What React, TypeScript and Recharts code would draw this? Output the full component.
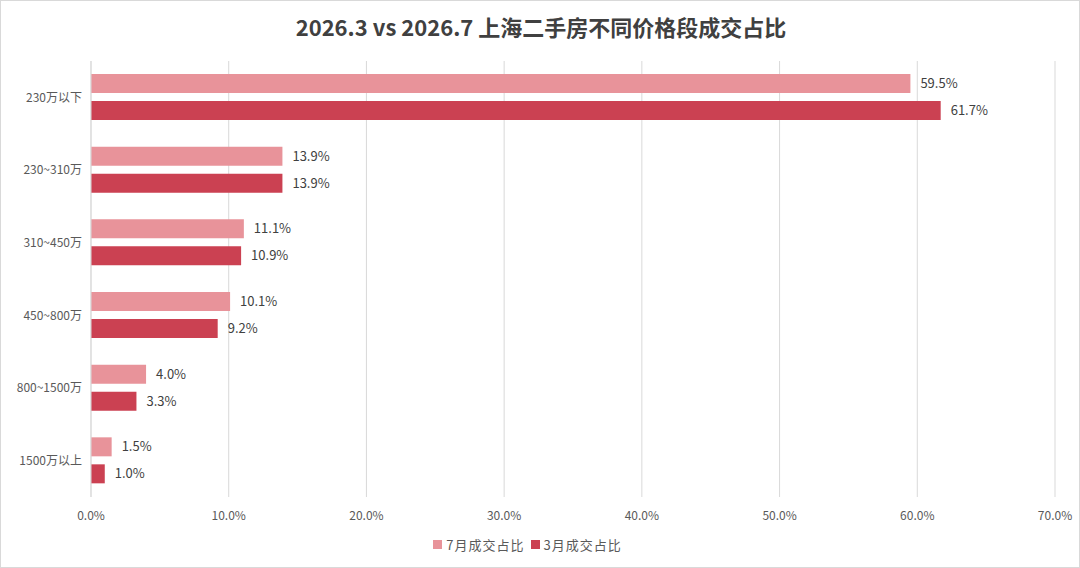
import React from 'react';
import { BarChart, Bar, XAxis, YAxis, CartesianGrid, LabelList, Legend } from 'recharts';

const categories = ['230万以下', '230~310万', '310~450万', '450~800万', '800~1500万', '1500万以上'];
const july = [59.5, 13.9, 11.1, 10.1, 4.0, 1.5];
const march = [61.7, 13.9, 10.9, 9.2, 3.3, 1.0];
const xTicks = [0, 10, 20, 30, 40, 50, 60, 70];
const seriesNames = ['7月成交占比', '3月成交占比'];
const colors = ['#E8939A', '#CB4152'];

const data = categories.map((c, i) => ({ name: c, july: july[i], march: march[i] }));

const FONT = '"Microsoft YaHei", "Noto Sans CJK SC", "Noto Sans", sans-serif';

const LegendContent = () => (
  <div style={{ display: 'flex', justifyContent: 'center', fontFamily: FONT, fontSize: 13, color: '#595959', height: 17, lineHeight: '17px' }}>
    {seriesNames.map((n, i) => (
      <span key={n} style={{ display: 'inline-flex', alignItems: 'center', marginRight: i === 0 ? 6 : 0, letterSpacing: 1 }}>
        <span style={{ width: 9, height: 9, background: colors[i], display: 'inline-block', marginRight: 4 }} />
        {n}
      </span>
    ))}
  </div>
);

export default function App() {
  return (
    <div style={{ position: 'fixed', left: 0, top: 0, width: 1080, height: 568, background: '#fff', boxSizing: 'border-box', border: '1px solid #d9d9d9', fontFamily: FONT }}>
      <div style={{ position: 'absolute', top: 10, left: 0, width: 1080, textAlign: 'center', fontSize: 22, fontWeight: 'bold', color: '#404040', lineHeight: '30px' }}>
        2026.3 vs 2026.7 上海二手房不同价格段成交占比
      </div>
      <div style={{ position: 'absolute', left: -1, top: -1 }}>
        <BarChart
          width={1080}
          height={568}
          data={data}
          layout="vertical"
          margin={{ top: 61, right: 25, bottom: 24, left: 0 }}
          barGap={8}
          barCategoryGap={13}
        >
          <CartesianGrid horizontal={false} vertical={true} stroke="#d9d9d9" />
          <XAxis
            type="number"
            domain={[0, 70]}
            ticks={xTicks}
            tickFormatter={(v: number) => `${v.toFixed(1)}%`}
            axisLine={false}
            tickLine={false}
            tick={{ fontSize: 12, fill: '#595959', fontFamily: FONT }}
            height={30}
            tickMargin={8}
          />
          <YAxis
            type="category"
            dataKey="name"
            width={91}
            axisLine={{ stroke: '#d9d9d9' }}
            tickLine={false}
            tickSize={0}
            tickMargin={9}
            tick={{ fontSize: 12, fill: '#595959', fontFamily: FONT }}
          />
          <Legend verticalAlign="bottom" content={<LegendContent />} wrapperStyle={{ bottom: 15 }} />
          <Bar dataKey="july" name={seriesNames[0]} fill={colors[0]} isAnimationActive={false}>
            <LabelList dataKey="july" position="right" offset={10} formatter={(v: number) => `${v.toFixed(1)}%`} style={{ fontSize: 13, fill: '#404040', fontFamily: FONT }} />
          </Bar>
          <Bar dataKey="march" name={seriesNames[1]} fill={colors[1]} isAnimationActive={false}>
            <LabelList dataKey="march" position="right" offset={10} formatter={(v: number) => `${v.toFixed(1)}%`} style={{ fontSize: 13, fill: '#404040', fontFamily: FONT }} />
          </Bar>
        </BarChart>
      </div>
    </div>
  );
}
